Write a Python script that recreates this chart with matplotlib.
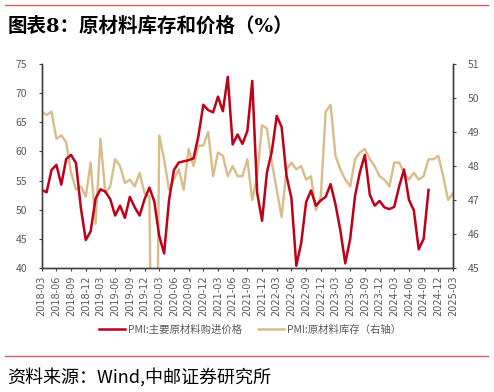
import matplotlib
matplotlib.use("Agg")
import matplotlib.pyplot as plt
from matplotlib.lines import Line2D

plt.rcParams['font.family'] = ['Noto Sans CJK SC', 'DejaVu Sans']

# ---- data ----
price = [53.4, 53.0, 56.8, 57.7, 54.3, 58.7, 59.4, 58.0, 50.3, 44.8,
         46.3, 51.9, 53.5, 53.1, 51.8, 49.0, 50.7, 48.6, 52.2, 50.4, 49.0, 51.8,
         53.8, 51.4, 45.5, 42.5, 51.6, 56.8, 58.1, 58.3, 58.5, 58.8, 62.6, 68.0,
         67.1, 66.7, 69.4, 66.9, 72.8, 61.2, 62.9, 61.3, 63.5, 72.1, 52.9, 48.1,
         56.4, 60.0, 66.1, 64.2, 55.8, 52.0, 40.4, 44.3, 51.3, 53.3, 50.7, 51.6,
         52.2, 54.4, 50.9, 46.4, 40.8, 45.0, 52.4, 56.5, 59.4, 52.6, 50.7, 51.5,
         50.4, 50.1, 50.5, 54.0, 56.9, 51.7, 49.9, 43.2, 45.0, 53.4]
inventory = [49.6, 49.5, 49.6, 48.8, 48.9, 48.7, 47.8, 47.3, 47.4, 47.1,
             48.1, 46.3, 48.8, 47.2, 47.4, 48.2, 48.0, 47.5, 47.6, 47.4, 47.8, 47.2,
             47.1, 33.9, 48.9, 48.2, 47.3, 47.6, 47.9, 47.3, 48.5, 48.0, 48.6, 48.6,
             49.0, 47.7, 48.4, 48.3, 47.7, 48.0, 47.7, 47.7, 48.2, 47.0, 47.7, 49.2,
             49.1, 48.1, 47.3, 46.5, 47.9, 48.1, 47.9, 48.0, 47.6, 47.7, 46.7, 47.1,
             49.6, 49.8, 48.3, 47.9, 47.6, 47.4, 48.2, 48.4, 48.5, 48.2, 48.0, 47.7,
             47.6, 47.4, 48.1, 48.1, 47.8, 47.6, 47.8, 47.6, 47.7, 48.2, 48.2, 48.3,
             47.7, 47.0, 47.2]
tick_labels = [f"{y}-{m:02d}" for y in range(2018, 2026) for m in (3, 6, 9, 12)][:29]
title = "图表8：原材料库存和价格（%）"
source = "资料来源：Wind,中邮证券研究所"
legend_labels = ["PMI:主要原材料购进价格", "PMI:原材料库存（右轴）"]

RED = "#C00018"
TAN = "#D8BC8A"
GRAY = "#595959"

fig = plt.figure(figsize=(4.94, 3.92), dpi=100)
W, H = 494, 392

def fx(px): return px / W
def fy(py): return 1 - py / H

# decorative header / footer lines
fig.add_artist(Line2D([fx(5), fx(488)], [fy(5), fy(5)], color="#D06060", lw=1.0))
fig.add_artist(Line2D([fx(5), fx(488)], [fy(356), fy(356)], color="#D06060", lw=1.0))
fig.text(fx(8), fy(26), title, fontsize=14, fontweight='bold', va='center', ha='left',
         color='black', family=['DejaVu Serif', 'Noto Sans CJK SC'])
fig.text(fx(7), fy(377), source, fontsize=13, va='center', ha='left', color='black',
         fontweight='light', family=['Noto Sans CJK SC', 'DejaVu Sans'])

left, right, top, bottom = 41.7, 453, 64, 268
ax = fig.add_axes([fx(left), fy(bottom), fx(right) - fx(left), fy(top) - fy(bottom)])
ax2 = ax.twinx()

x_price = list(range(len(price)))
x_inv = list(range(len(inventory)))

ax2.plot(x_inv, inventory, color=TAN, lw=1.7)
ax.plot(x_price, price, color=RED, lw=1.8)
ax.set_zorder(ax2.get_zorder() + 1)
ax.patch.set_visible(False)

ax.set_xlim(0, 84)
ax.set_ylim(40, 75)
ax2.set_ylim(45, 51)
ax.set_yticks(range(40, 80, 5))
ax2.set_yticks(range(45, 52))
ax.set_xticks(range(0, 85, 3))
ax.set_xticklabels(tick_labels, rotation=90, fontsize=7, color=GRAY, family='DejaVu Sans')

for a in (ax, ax2):
    a.spines['top'].set_visible(False)
    for s in ('left', 'right', 'bottom'):
        a.spines[s].set_color('#404040')
        a.spines[s].set_linewidth(1.0)
    a.tick_params(axis='y', labelsize=7.5, labelcolor=GRAY, length=2.5, color='#404040')
ax.tick_params(axis='x', length=2.5, color='#404040', pad=3)
ax.tick_params(axis='y', pad=8)
ax2.tick_params(axis='y', pad=8)

handles = [Line2D([], [], color=RED, lw=1.8), Line2D([], [], color=TAN, lw=1.8)]
fig.legend(handles, legend_labels, loc='center', bbox_to_anchor=(fx(250), fy(330)),
           ncol=2, frameon=False, fontsize=7.5, labelcolor=GRAY,
           handlelength=2.5, handletextpad=0.3, columnspacing=1.5)

fig.savefig("out.png", dpi=100)
